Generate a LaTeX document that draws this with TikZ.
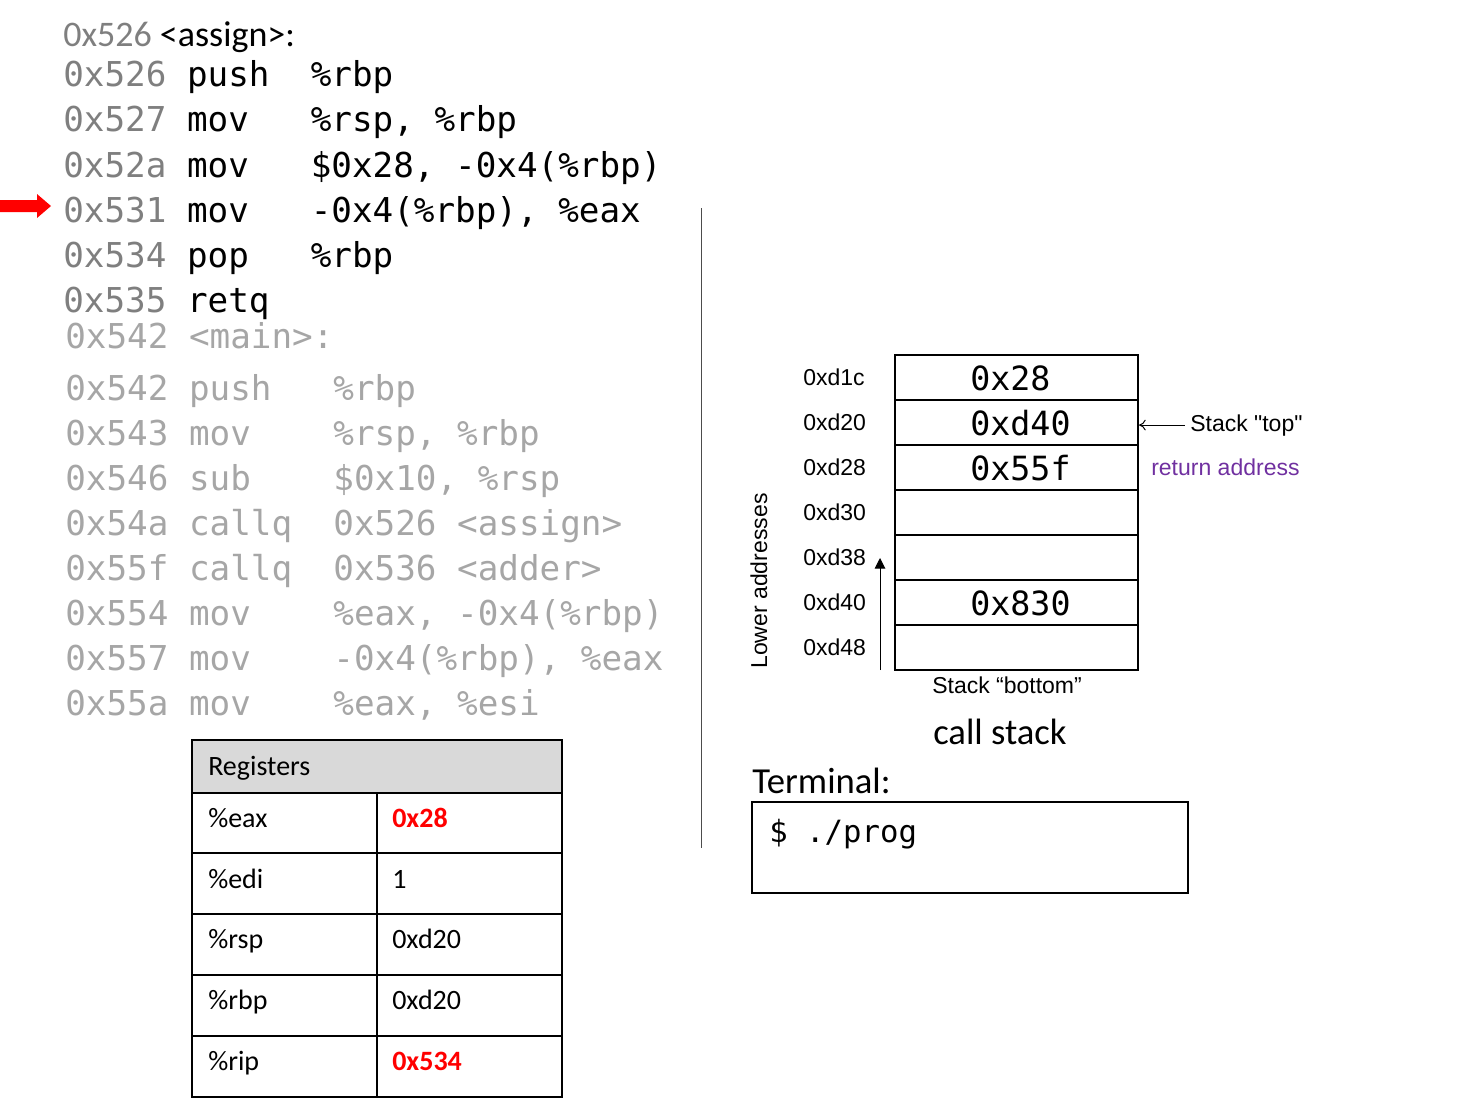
\documentclass[tikz,border=0pt]{standalone}
\usepackage{fontspec}
\setmainfont{Carlito}
\newfontfamily\codefont{DejaVu Sans Mono}
\newfontfamily\arialfont{Liberation Sans}
\usetikzlibrary{arrows.meta}
\definecolor{addrgray}{HTML}{7F7F7F}
\definecolor{maingray}{HTML}{A6A6A6}
\definecolor{hdrgray}{HTML}{D9D9D9}
\definecolor{retpurple}{HTML}{7030A0}
\definecolor{hotred}{HTML}{FF0000}
\tikzset{
  codeln/.style={anchor=base west, inner sep=0pt, font=\codefont\fontsize{25.7}{30}\selectfont},
  mainln/.style={codeln, text=maingray},
  stackaddr/.style={anchor=base west, inner sep=0pt, font=\arialfont\fontsize{17.25}{20}\selectfont},
  stackval/.style={anchor=base west, inner sep=0pt, font=\codefont\fontsize{25}{30}\selectfont},
  cell/.style={draw, line width=1.5pt, minimum width=182.25pt, minimum height=33.75pt, inner sep=0pt},
  regtext/.style={anchor=base west, inner sep=0pt, font=\fontsize{21}{25}\selectfont},
  bigtext/.style={anchor=base west, inner sep=0pt, font=\fontsize{27.5}{32}\selectfont},
  tblline/.style={line width=1.5pt}
}

\begin{document}
\begin{tikzpicture}[x=0.75pt,y=-0.75pt]
            \useasboundingbox (0,0) rectangle (1481,1099);

            % assign
            \node[bigtext, font=\fontsize{27}{32}\selectfont] (assignhead) at (63,47) {\textcolor{addrgray}{0x526} <assign>:};
            \node[codeln] (a1) at (63,87) {\textcolor{addrgray}{0x526} push~~\%rbp};
            \node[codeln] (a2) at (63,132) {\textcolor{addrgray}{0x527} mov~~~\%rsp, \%rbp};
            \node[codeln] (a3) at (63,177) {\textcolor{addrgray}{0x52a} mov~~~\$0x28, -0x4(\%rbp)};
            \node[codeln] (a4) at (63,222) {\textcolor{addrgray}{0x531} mov~~~-0x4(\%rbp), \%eax};
            \node[codeln] (a5) at (63,267) {\textcolor{addrgray}{0x534} pop~~~\%rbp};
            \node[codeln] (a6) at (63,312) {\textcolor{addrgray}{0x535} retq};
            \fill[hotred] (0,200) -- (37,200) -- (37,194) -- (51,206) -- (37,218) -- (37,212) -- (0,212) -- cycle;

            % main
            \node[mainln] (mainhead) at (65,348) {0x542 <main>:};
            \node[mainln] (m1) at (65,400) {0x542 push~~~\%rbp};
            \node[mainln] (m2) at (65,445) {0x543 mov~~~~\%rsp, \%rbp};
            \node[mainln] (m3) at (65,490) {0x546 sub~~~~\$0x10, \%rsp};
            \node[mainln] (m4) at (65,535) {0x54a callq~~0x526 <assign>};
            \node[mainln] (m5) at (65,580) {0x55f callq~~0x536 <adder>};
            \node[mainln] (m6) at (65,625) {0x554 mov~~~~\%eax, -0x4(\%rbp)};
            \node[mainln] (m7) at (65,670) {0x557 mov~~~~-0x4(\%rbp), \%eax};
            \node[mainln] (m8) at (65,715) {0x55a mov~~~~\%eax, \%esi};

            % registers
            \filldraw[tblline, fill=hdrgray] (192,740) rectangle (562,793);
            \draw[tblline] (192,793) rectangle (562,1097);
            \foreach \y in {853,914,975,1036}
              \draw[tblline] (192,\y) -- (562,\y);
            \draw[tblline] (377,793) -- (377,1097);
            \node[regtext] (reghead) at (208,775) {Registers};
            \node[regtext] (eax) at (208,827) {\%eax};
            \node[regtext] (eaxval) at (392,827) {\textcolor{hotred}{\bfseries 0x28}};
            \node[regtext] (edi) at (208,888) {\%edi};
            \node[regtext] (edival) at (392,888) {1};
            \node[regtext] (rsp) at (208,948) {\%rsp};
            \node[regtext] (rspval) at (392,948) {0xd20};
            \node[regtext] (rbp) at (208,1009) {\%rbp};
            \node[regtext] (rbpval) at (392,1009) {0xd20};
            \node[regtext] (rip) at (208,1070) {\%rip};
            \node[regtext] (ripval) at (392,1070) {\textcolor{hotred}{\bfseries 0x534}};

            \draw[black!70, line width=0.75pt] (701,208) -- (701,848);

            % call stack
            \node[cell] (cell1) at (1016.5,377.5) {};
            \node[cell] (cell2) at (1016.5,422.5) {};
            \node[cell] (cell3) at (1016.5,467.5) {};
            \node[cell] (cell4) at (1016.5,512.5) {};
            \node[cell] (cell5) at (1016.5,557.5) {};
            \node[cell] (cell6) at (1016.5,602.5) {};
            \node[cell] (cell7) at (1016.5,647.5) {};
            \node[stackval] (v1) at (970,390) {0x28};
            \node[stackval] (v2) at (970,435) {0xd40};
            \node[stackval] (v3) at (970,480) {0x55f};
            \node[stackval] (v6) at (970,615) {0x830};
            \node[stackaddr] (ad1) at (803,385.5) {0xd1c};
            \node[stackaddr] (ad2) at (803,430.5) {0xd20};
            \node[stackaddr] (ad3) at (803,475.5) {0xd28};
            \node[stackaddr] (ad4) at (803,520.5) {0xd30};
            \node[stackaddr] (ad5) at (803,565.5) {0xd38};
            \node[stackaddr] (ad6) at (803,610.5) {0xd40};
            \node[stackaddr] (ad7) at (803,655.5) {0xd48};
            \node[stackaddr, anchor=base, rotate=90] (lower) at (767,581) {Lower addresses};
            \coordinate (lowbot) at (880,670);
            \coordinate (lowtop) at (880,558);
            \draw[line width=0.75pt, -{Triangle[length=8pt,width=8pt]}] (lowbot) -- (lowtop);
            \node[stackaddr] (stacktop) at (1190,431) {Stack "top"};
            \draw[line width=0.75pt, shorten <=4pt, -{To[length=5pt,width=8pt]}] (stacktop.west) -- (stacktop.west -| cell2.east);
            \node[stackaddr, text=retpurple] (retaddr) at (1151,475) {return address};
            \node[stackaddr] (stackbot) at (932,693) {Stack “bottom”};
            \node[bigtext] (callstack) at (933,744) {call stack};

            % terminal
            \node[bigtext] (termlabel) at (752,793) {Terminal:};
            \draw[tblline] (752,802) rectangle (1188,893);
            \node[codeln, font=\codefont\fontsize{23}{28}\selectfont] (prompt) at (769,842) {\$ ./prog};
        \end{tikzpicture}
\end{document}
